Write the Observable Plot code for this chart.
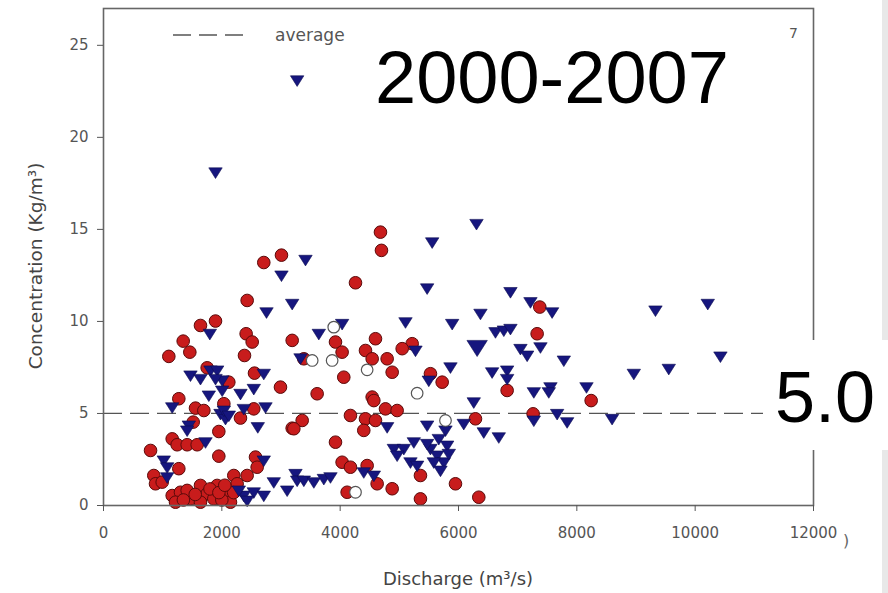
<!DOCTYPE html>
<html><head><meta charset="utf-8">
<script src="https://cdn.jsdelivr.net/npm/d3@7"></script>
<script src="https://cdn.jsdelivr.net/npm/@observablehq/plot@0.6"></script>
<style>
body{margin:0;background:#fff}
#wrap{position:relative;width:888px;height:593px;overflow:hidden;background:#fff}
#wrap svg{position:absolute;left:0;top:0}
</style></head><body><div id="wrap"></div>
<script>
// Discharge (m3/s), Concentration (Kg/m3)
const redPoints = [
[4681,14.85],[4698,13.86],[2709,13.2],[3008,13.6],[4259,12.1],[2428,11.14],[1893,10.02],[1639,9.78],[2411,9.33],[2513,8.88],[3189,8.97],[1347,8.93],[1459,8.33],[1104,8.1],[2383,8.15],[1752,7.48],[2118,6.7],[2552,7.19],[2991,6.43],[1273,5.8],[1555,5.29],[1696,5.16],[2034,5.53],[2315,4.75],[2540,5.25],[3189,4.2],[1516,4.53],[1949,4.02],[795,2.99],[1161,3.62],[1245,3.3],[1414,3.3],[1583,3.3],[1949,2.68],[1273,2.0],[850,1.63],[879,1.18],[992,1.27],[2569,2.63],[2597,2.08],[2202,1.63],[2428,1.63],[2259,1.18],
[1161,0.54],[1301,0.72],[1217,0.18],[1470,0.36],[1639,1.09],[1752,0.64],[1921,1.09],[1864,0.36],[2090,0.54],[2146,0.18],[1414,0.82],[1639,0.18],[1550,0.6],[1800,0.9],[2000,0.3],[1350,0.3],[2200,0.7],[1950,0.7],[2050,1.1],
[3921,8.88],[4597,9.06],[4033,8.33],[4428,8.42],[5217,8.79],[5048,8.52],[4541,7.97],[4794,7.97],[3386,7.97],[4061,6.97],[4879,7.24],[5526,7.16],[5724,6.7],[3611,6.07],[4541,5.89],
[4569,5.7],[4766,5.25],[4963,5.16],[4174,4.89],[4428,4.71],[4597,4.62],[4399,4.08],[3358,4.62],[3217,4.17],[6287,4.71],[3921,3.44],[4033,2.35],[4174,2.08],[4456,2.17],[5357,1.63],[4625,1.18],[4879,0.91],[4118,0.72],[5949,1.18],[5357,0.36],[6343,0.45],
[7374,10.78],[7329,9.33],[6822,6.25],[8242,5.7],[7261,4.98]
];
const trianglePoints = [
[3273,23.1],[1893,18.1],[6304,15.3],[5555,14.3],[3414,13.35],[3008,12.5],[5470,11.8],[2755,10.5],[3189,10.96],[1797,9.33],[1470,7.07],[1639,6.88],[1808,7.34],[1921,7.34],[2006,6.8],[1893,6.88],[2709,7.16],[2540,6.34],[2315,6.07],[2006,6.25],[1780,5.98],[1161,5.34],[1977,4.98],[2062,4.71],[2034,5.16],[2118,4.89],[2371,5.25],[2738,5.34],[2608,4.26],[1442,4.35],[1414,4.08],[1724,3.44],[1019,2.45],[1076,2.08],[1076,1.54],[2709,2.45],[2878,1.27],[3104,0.82],[3245,1.72],[3273,1.36],[2371,0.54],[2540,0.72],[2709,0.54],[2287,0.82],[2428,0.27],
[5104,9.96],[5893,9.87],[6371,10.42],[4033,9.87],[3639,9.33],[5273,8.42],[5864,7.51],[5498,6.79],[3330,8.0],
[4794,4.26],[5470,4.35],[6089,4.44],[6258,5.61],[6427,3.98],
[5780,4.08],[5667,3.62],[5808,3.26],[5526,3.08],[5639,2.72],[5752,2.35],[5583,2.35],[5836,2.81],[5470,3.35],[5695,1.9],
[4907,3.08],[5076,3.08],[5245,3.44],[4963,2.72],[5188,2.35],[5301,2.17],
[4399,1.81],[4569,1.63],[3386,1.36],[3555,1.27],[3724,1.45],[3836,1.54],
[6878,11.6],[7216,11.05],[7582,10.5],[9329,10.6],[6625,9.42],[6766,9.51],[6878,9.6],[7047,8.51],[7160,8.15],[7385,8.6],[7780,7.88],[6568,7.24],[6822,7.34],[6822,6.88],[8963,7.16],[9554,7.43],[7273,6.16],[7554,6.43],[7526,6.16],[8163,6.43],[7273,4.62],[7667,4.98],[7836,4.53],[8596,4.71],[6681,3.71],[10213,10.96],[10427,8.1]
];
const bigTrianglePoints = [[6315,8.6]];
const openPoints = [[3892,9.69],[3527,7.88],[3864,7.88],[4456,7.37],[5301,6.1],[5780,4.62],[4259,0.72]];
const averageValue = [5];
const xTicks = [0,2000,4000,6000,8000,10000,12000];
const yTicks = [0,5,10,15,20,25];

const triangleDown = {
  draw(ctx, size) {
    const r = Math.sqrt(size / Math.PI);
    const w = r * 1.2, h = r;
    ctx.moveTo(-w, -h * 0.8);
    ctx.lineTo(w, -h * 0.8);
    ctx.lineTo(0, h * 1.1);
    ctx.closePath();
  }
};

const font = '"DejaVu Sans", sans-serif';
const chart = Plot.plot({
  width: 888, height: 593,
  marginLeft: 103, marginRight: 75, marginTop: 8, marginBottom: 88,
  style: {fontFamily: font, fontSize: "15px", color: "#555", background: "transparent", overflow: "visible"},
  x: {domain: [0, 12000]},
  y: {domain: [0, 27]},
  marks: [
    Plot.ruleY(averageValue, {stroke: "#555", strokeWidth: 1.2, strokeDasharray: "19,8"}),
    Plot.dot(redPoints, {x: d => d[0], y: d => d[1], r: 6.3, fill: "#c81c1c", stroke: "#5a0a0a", strokeWidth: 1}),
    Plot.dot(trianglePoints, {x: d => d[0], y: d => d[1], r: 5.6, symbol: triangleDown, fill: "#16167e", stroke: "#0c0c50", strokeWidth: 0.6}),
    Plot.dot(bigTrianglePoints, {x: d => d[0], y: d => d[1], r: 8.5, symbol: triangleDown, fill: "#16167e", stroke: "#0c0c50", strokeWidth: 0.6}),
    Plot.dot(openPoints, {x: d => d[0], y: d => d[1], r: 5.8, fill: "white", stroke: "#555", strokeWidth: 1.2}),
    Plot.frame({stroke: "#666", strokeWidth: 1.6}),
    Plot.axisX({ticks: xTicks, tickSize: 6, tickPadding: 16, label: null, tickFormat: d3.format("d"), stroke: "#555"}),
    Plot.axisY({ticks: yTicks, tickSize: 6, tickPadding: 9, label: null, tickFormat: d3.format("d"), stroke: "#555"})
  ]
});
const wrap = document.getElementById("wrap");
wrap.appendChild(chart);

// Overlay annotations (real text)
const ov = d3.select(wrap).append("svg").attr("width", 888).attr("height", 593).style("pointer-events", "none");
ov.append("rect").attr("x", 882).attr("y", 0).attr("width", 6).attr("height", 593).attr("fill", "#e8e8e8");
// legend
ov.append("line").attr("x1", 173).attr("x2", 248).attr("y1", 35).attr("y2", 35)
  .attr("stroke", "#555").attr("stroke-width", 1.3).attr("stroke-dasharray", "18,8");
ov.append("text").attr("x", 275).attr("y", 41).attr("font-family", font).attr("font-size", 17).attr("fill", "#555").text("average");
ov.append("text").attr("x", 789).attr("y", 38).attr("font-family", font).attr("font-size", 14).attr("fill", "#555").text("7");
// big labels
ov.append("text").attr("x", 375).attr("y", 103).attr("font-family", '"Liberation Sans", Arial, sans-serif').attr("font-size", 74).attr("fill", "#000").text("2000-2007");
ov.append("rect").attr("x", 763).attr("y", 340).attr("width", 125).attr("height", 110).attr("fill", "#fff");
ov.append("text").attr("x", 775).attr("y", 422).attr("font-family", '"Liberation Sans", Arial, sans-serif').attr("font-size", 72).attr("fill", "#000").text("5.0");
ov.append("text").attr("x", 843).attr("y", 546).attr("font-family", font).attr("font-size", 16).attr("fill", "#666").text(")");
// axis titles
ov.append("text").attr("x", 458).attr("y", 578).attr("text-anchor", "middle").attr("dominant-baseline", "central")
  .attr("font-family", font).attr("font-size", 18).attr("fill", "#444").text("Discharge (m³/s)");
ov.append("text").attr("transform", "translate(35,266) rotate(-90)").attr("text-anchor", "middle").attr("dominant-baseline", "central")
  .attr("font-family", font).attr("font-size", 18.5).attr("fill", "#444").text("Concentration (Kg/m³)");
</script></body></html>
